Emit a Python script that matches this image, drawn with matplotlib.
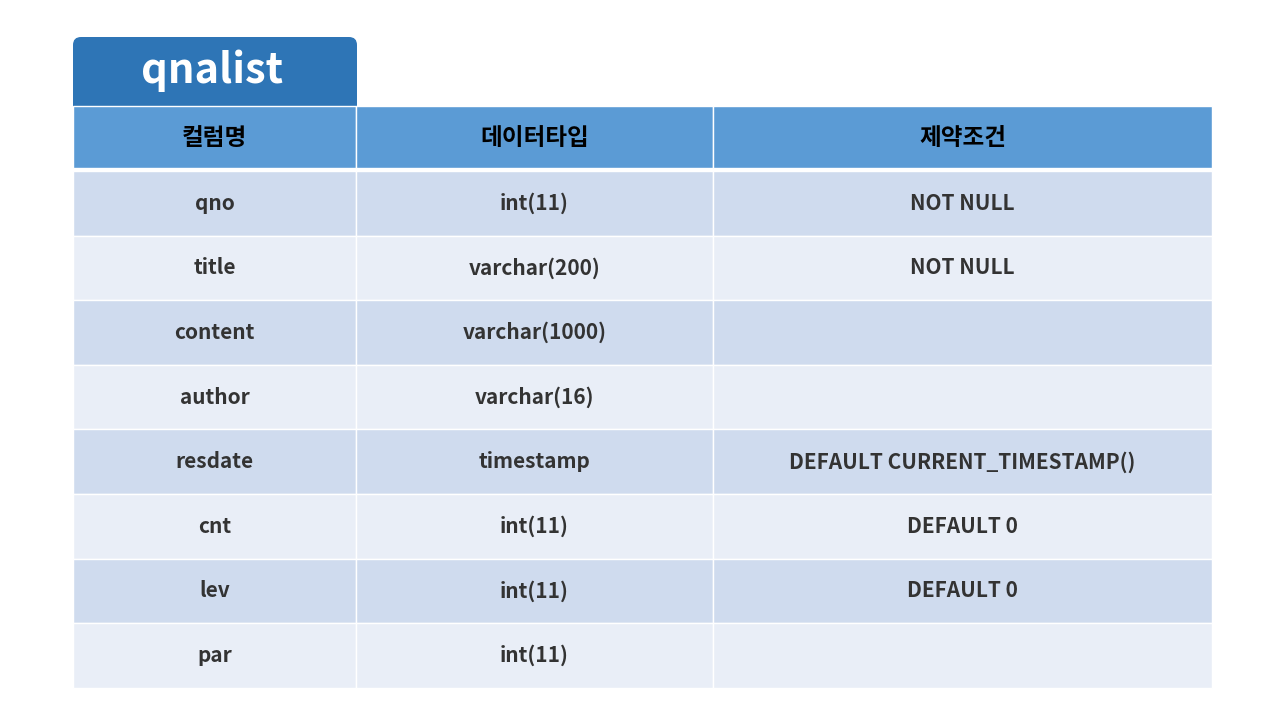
import matplotlib.pyplot as plt
from matplotlib.patches import Rectangle, FancyBboxPatch

plt.rcParams['font.family'] = ['Noto Sans CJK KR', 'DejaVu Sans']

table_name = 'qnalist'
headers = ['컬럼명', '데이터타입', '제약조건']
col_names = ['qno', 'title', 'content', 'author', 'resdate', 'cnt', 'lev', 'par']
col_types = ['int(11)', 'varchar(200)', 'varchar(1000)', 'varchar(16)', 'timestamp',
             'int(11)', 'int(11)', 'int(11)']
col_rules = ['NOT NULL', 'NOT NULL', '', '', 'DEFAULT CURRENT_TIMESTAMP()',
             'DEFAULT 0', 'DEFAULT 0', '']

fig = plt.figure(figsize=(12.8, 7.2), dpi=100)
ax = fig.add_axes([0, 0, 1, 1])
ax.set_xlim(0, 1280)
ax.set_ylim(720, 0)
ax.axis('off')

# tab with title
tab = FancyBboxPatch((73, 37), 284, 80, boxstyle='round,pad=0,rounding_size=8',
                     fc='#2E75B6', ec='none')
ax.add_patch(tab)
ax.add_patch(Rectangle((73, 90), 284, 16, fc='#2E75B6', ec='none'))
ax.text(212, 71, table_name, color='white', fontsize=30, fontweight='bold',
        ha='center', va='center')

xs = [73, 356, 713, 1212]
row_h = 64.6
top = 106

# header
for i in range(3):
    ax.add_patch(Rectangle((xs[i], top), xs[i + 1] - xs[i], 62, fc='#5B9BD5',
                           ec='white', lw=1))
    ax.text((xs[i] + xs[i + 1]) / 2, top + 32, headers[i], color='black',
            fontsize=17, fontweight='bold', ha='center', va='center')

y0 = 171
for r, vals in enumerate(zip(col_names, col_types, col_rules)):
    y = y0 + r * row_h
    fc = '#CFDBEE' if r % 2 == 0 else '#E9EEF7'
    for i in range(3):
        ax.add_patch(Rectangle((xs[i], y), xs[i + 1] - xs[i], row_h, fc=fc,
                               ec='white', lw=1))
        ax.text((xs[i] + xs[i + 1]) / 2, y + row_h / 2, vals[i], color='#333333',
                fontsize=15, fontweight='bold', ha='center', va='center')

fig.savefig('out.png', dpi=100)
